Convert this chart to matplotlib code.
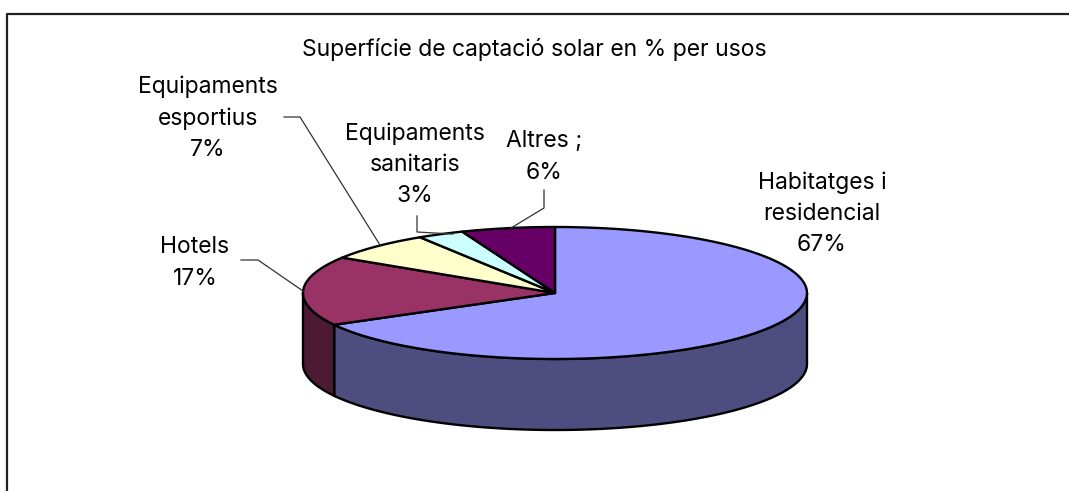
"""
Superficie de captacio solar: pseudo 3D pie drawn on a pixel sized axes.
"""

import numpy as np
import matplotlib
matplotlib.use("Agg")
import matplotlib.pyplot as plt
from matplotlib.patches import Polygon


# =========================
# Data
# =========================

CATEGORIES = ["Habitatges i\nresidencial", "Hotels", "Equipaments\nesportius",
              "Equipaments\nsanitaris", "Altres ;"]
VALUES = [67, 17, 7, 3, 6]
TOP_COLORS = ["#9999ff", "#993366", "#ffffcc", "#ccffff", "#660066"]
SIDE_COLORS = ["#4d4d80", "#4d1a33", "#808066", "#668080", "#330033"]

TITLE = "Superfície de captació solar en % per usos"

# =========================
# Layout (pixels of the output)
# =========================

W, H = 1069, 491
CX, CY = 555, 293
RX, RY = 252, 66
DEPTH = 71

# Inter is close to the wide spaced Arial of the original
plt.rcParams["font.family"] = ["Inter", "Liberation Sans", "DejaVu Sans"]


def rim(a0, a1, n=120):
    """Points on the top ellipse, angles clockwise from the top, in degrees."""
    t = np.radians(np.linspace(a0, a1, n))
    return np.column_stack([CX + RX * np.sin(t), CY - RY * np.cos(t)])


def main():
    fig = plt.figure(figsize=(W / 100, H / 100), dpi=100)
    ax = fig.add_axes([0, 0, 1, 1])
    ax.set_xlim(0, W)
    ax.set_ylim(H, 0)
    ax.axis("off")

    # chart frame, only left and top fall inside the picture
    ax.plot([7, 7, W + 5], [H + 5, 14, 14], color="#222222", lw=1.6)

    edges = np.concatenate([[0], np.cumsum(VALUES)]) / sum(VALUES) * 360

    # side wall: only the part between the right and left extremes shows
    for i in range(len(VALUES)):
        a0, a1 = max(edges[i], 90), min(edges[i + 1], 270)
        if a1 <= a0:
            continue
        top = rim(a0, a1)
        bottom = top[::-1] + [0, DEPTH]
        ax.add_patch(Polygon(np.vstack([top, bottom]), closed=True,
                             facecolor=SIDE_COLORS[i], edgecolor="black", lw=1.7))

    # top face
    for i in range(len(VALUES)):
        pts = np.vstack([[CX, CY], rim(edges[i], edges[i + 1])])
        ax.add_patch(Polygon(pts, closed=True, facecolor=TOP_COLORS[i],
                             edgecolor="black", lw=1.7, joinstyle="round"))

    ax.text(534, 49, TITLE, ha="center", va="center", fontsize=16.5)

    # labels, name plus percentage
    label_pos = [(822, 214), (195, 263), (208, 118), (415, 165), (544, 157)]
    for name, val, (x, y) in zip(CATEGORIES, VALUES, label_pos):
        ax.text(x, y, f"{name}\n{val}%", ha="center", va="center",
                fontsize=16.5, linespacing=1.54)

    # leader lines
    leaders = [
        ([241, 258, 303], [260, 260, 291]),
        ([284, 300, 380], [117, 117, 245]),
        ([417, 417, 453], [216, 232, 234]),
        ([544, 544, 511], [190, 208, 228]),
    ]
    for xs, ys in leaders:
        ax.plot(xs, ys, color="#333333", lw=0.9)

    fig.savefig("out.png", dpi=100)
    plt.close(fig)


if __name__ == "__main__":
    main()
